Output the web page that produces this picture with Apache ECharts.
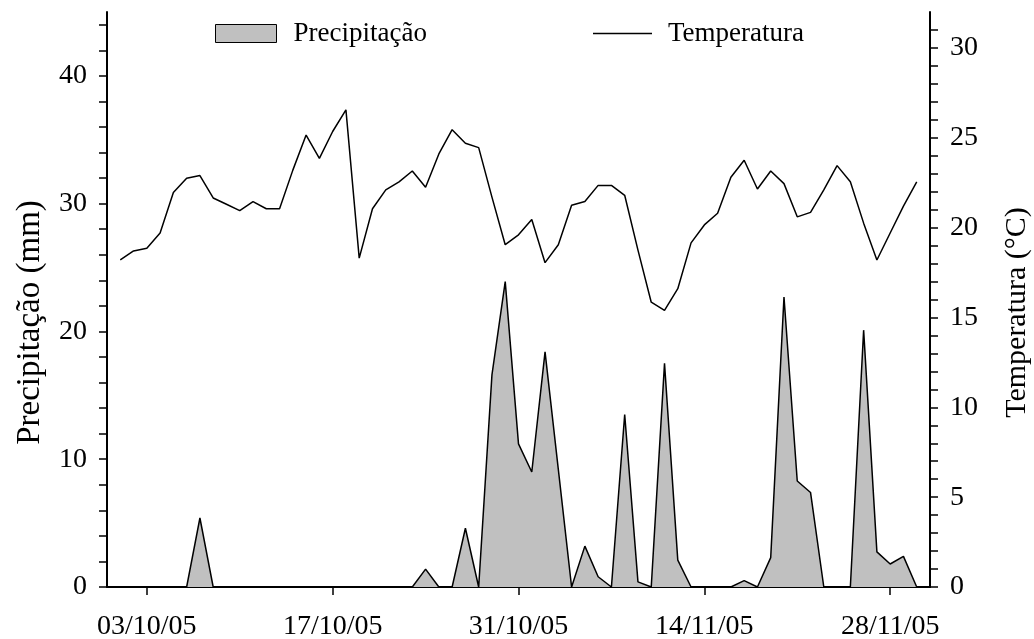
<!DOCTYPE html>
<html>
<head>
<meta charset="utf-8">
<script src="https://cdn.jsdelivr.net/npm/echarts@6/dist/echarts.min.js"></script>
<style>
  html, body { margin: 0; padding: 0; background: #fff; }
  #chart { width: 1034px; height: 639px; }
</style>
</head>
<body>
<div id="chart"></div>
<script>
// daily series, 01/10/05 .. 30/11/05 (x = days since 30/09/05)
const firstDay = 1;
const precipitation = [
  0, 0, 0, 0, 0, 0, 5.4, 0, 0, 0,
  0, 0, 0, 0, 0, 0, 0, 0, 0, 0,
  0, 0, 0, 1.4, 0, 0, 4.6, 0, 16.6, 23.9,
  11.2, 9.0, 18.4, 9.2, 0, 3.2, 0.8, 0, 13.5, 0.4,
  0, 17.5, 2.1, 0, 0, 0, 0, 0.5, 0, 2.3,
  22.7, 8.3, 7.4, 0, 0, 0, 20.1, 2.75, 1.8, 2.4,
  0
];
const temperature = [
  18.2, 18.7, 18.85, 19.7, 21.95, 22.75, 22.9, 21.65, 21.3, 20.95,
  21.45, 21.05, 21.05, 23.2, 25.15, 23.85, 25.35, 26.55, 18.3, 21.05,
  22.1, 22.55, 23.15, 22.25, 24.1, 25.45, 24.7, 24.45, 21.7, 19.05,
  19.6, 20.45, 18.05, 19.05, 21.25, 21.45, 22.35, 22.35, 21.8, 18.75,
  15.85, 15.4, 16.6, 19.15, 20.15, 20.8, 22.8, 23.75, 22.15, 23.15,
  22.45, 20.6, 20.85, 22.1, 23.45, 22.55, 20.25, 18.2, 19.7, 21.2,
  22.55
];
const xTickDays = [3, 17, 31, 45, 59];
const xTickLabels = ['03/10/05', '17/10/05', '31/10/05', '14/11/05', '28/11/05'];
const precipTicks = [0, 2, 4, 6, 8, 10, 12, 14, 16, 18, 20, 22, 24, 26, 28, 30, 32, 34, 36, 38, 40, 42, 44];
const precipLabels = [0, 10, 20, 30, 40];
const tempTicks = [0, 1, 2, 3, 4, 5, 6, 7, 8, 9, 10, 11, 12, 13, 14, 15, 16, 17, 18, 19, 20, 21, 22, 23, 24, 25, 26, 27, 28, 29, 30, 31];
const tempLabels = [0, 5, 10, 15, 20, 25, 30];

const FONT = 'Liberation Serif';
const precipData = precipitation.map((v, i) => [firstDay + i, v]);
const tempData = temperature.map((v, i) => [firstDay + i, v]);

const axisLine = { show: true, lineStyle: { color: '#000', width: 2 } };
const labelStyle = { color: '#000', fontFamily: FONT, fontSize: 28 };
const legendText = { color: '#000', fontFamily: FONT, fontSize: 27 };
const tickStyle = { color: '#000', width: 1.5 };

const chart = echarts.init(document.getElementById('chart'), null, { renderer: 'canvas' });
chart.setOption({
  animation: false,
  backgroundColor: '#fff',
  grid: { left: 107, right: 104, top: 12, bottom: 52, outerBoundsMode: 'none', containLabel: false },
  legend: [
    {
      left: 210, top: 15, itemWidth: 61, itemHeight: 18,
      data: [{ name: 'Precipitação', icon: 'rect', itemStyle: { color: '#c0c0c0', borderColor: '#000', borderWidth: 1 } }],
      textStyle: { ...legendText, padding: [0, 0, 0, 12] },
    },
    {
      left: 588, top: 15, itemWidth: 59, itemHeight: 1.5,
      data: [{ name: 'Temperatura', icon: 'rect', itemStyle: { color: '#000' } }],
      textStyle: { ...legendText, padding: [0, 0, 0, 11] },
    },
  ],
  xAxis: {
    type: 'value',
    min: 0,
    max: 62,
    axisLine,
    splitLine: { show: false },
    axisTick: { show: true, length: 8, lineStyle: tickStyle, customValues: xTickDays },
    axisLabel: {
      ...labelStyle,
      margin: 26,
      customValues: xTickDays,
      formatter: (v) => xTickLabels[xTickDays.indexOf(v)] || '',
    },
  },
  yAxis: [
    {
      type: 'value',
      min: 0, max: 45,
      name: 'Precipitação (mm)',
      nameLocation: 'middle',
      nameGap: 60,
      nameTextStyle: { color: '#000', fontFamily: FONT, fontSize: 33, padding: [0, 46, 0, 0] },
      axisLine,
      splitLine: { show: false },
      axisTick: { show: true, length: 8, lineStyle: tickStyle, customValues: precipTicks },
      axisLabel: { ...labelStyle, margin: 20, customValues: precipLabels },
    },
    {
      type: 'value',
      min: 0, max: 32,
      position: 'right',
      name: 'Temperatura (°C)',
      nameLocation: 'middle',
      nameGap: 72,
      nameRotate: 90,
      nameTextStyle: { color: '#000', fontFamily: FONT, fontSize: 30, padding: [0, 26, 0, 0] },
      axisLine,
      splitLine: { show: false },
      axisTick: { show: true, length: 8, lineStyle: tickStyle, customValues: tempTicks },
      axisLabel: { ...labelStyle, margin: 20, customValues: tempLabels },
    },
  ],
  series: [
    {
      name: 'Precipitação',
      type: 'line',
      yAxisIndex: 0,
      data: precipData,
      symbol: 'none',
      lineStyle: { color: '#000', width: 1.5 },
      itemStyle: { color: '#c0c0c0', borderColor: '#000' },
      areaStyle: { color: '#c0c0c0', opacity: 1 },
      z: 2,
    },
    {
      name: 'Temperatura',
      type: 'line',
      yAxisIndex: 1,
      data: tempData,
      symbol: 'none',
      lineStyle: { color: '#000', width: 1.5 },
      itemStyle: { color: '#000' },
      z: 3,
    },
  ],
});
</script>
</body>
</html>
